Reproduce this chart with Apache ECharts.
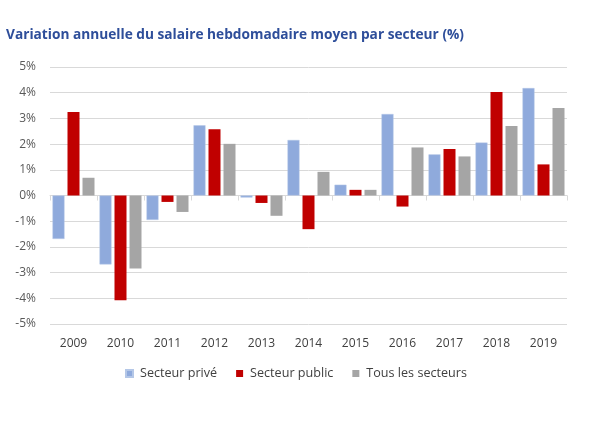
<!DOCTYPE html>
<html><head><meta charset="utf-8">
<script src="https://cdn.jsdelivr.net/npm/echarts@6/dist/echarts.min.js"></script>
<style>html,body{margin:0;padding:0;background:#fff}#c{width:605px;height:423px}</style>
</head><body><div id="c"></div>
<script>
const categories = ['2009','2010','2011','2012','2013','2014','2015','2016','2017','2018','2019'];
const prive  = [-1.69,-2.68,-0.95,2.73,-0.08,2.16,0.42,3.17,1.60,2.06,4.18];
const public_ = [3.25,-4.08,-0.25,2.58,-0.29,-1.31,0.22,-0.43,1.81,4.03,1.21];
const tous   = [0.69,-2.84,-0.64,2.01,-0.79,0.92,0.22,1.87,1.52,2.70,3.40];
const seriesNames = ['Secteur privé','Secteur public','Tous les secteurs'];
const yTicks = [-5,5,1];

const chart = echarts.init(document.getElementById('c'), null, {renderer:'canvas'});
const font = 'Open Sans, Liberation Sans, sans-serif';
chart.setOption({
  animation:false,
  title:{text:'Variation annuelle du salaire hebdomadaire moyen par secteur (%)',left:1,top:23,
    textStyle:{fontFamily:font,fontSize:13.7,fontWeight:'bold',color:'#2E4E9A'}},
  grid:{left:50,right:38,top:67,bottom:99},
  legend:{bottom:38,left:120,itemWidth:7,itemHeight:7,itemGap:19,icon:'rect',
    textStyle:{fontFamily:font,fontSize:12.6,color:'#404040',padding:[0,0,0,2]},data:seriesNames},
  xAxis:[
    {type:'category',data:categories,position:'bottom',axisLine:{show:false,onZero:false},axisTick:{show:false},
      axisLabel:{fontFamily:font,fontSize:12,color:'#404040',margin:14}},
    {type:'category',data:categories,position:'bottom',axisLine:{show:true,onZero:true,lineStyle:{color:'#D9D9D9'}},
      axisTick:{show:true,length:5,lineStyle:{color:'#D9D9D9'}},axisLabel:{show:false}}
  ],
  yAxis:{type:'value',min:yTicks[0],max:yTicks[1],interval:yTicks[2],
    axisLabel:{fontFamily:font,fontSize:12,color:'#595959',margin:14,formatter:v=>v+'%'},
    splitLine:{lineStyle:{color:'#D9D9D9'}},axisLine:{show:false},axisTick:{show:false}},
  series:[
    {name:seriesNames[0],type:'bar',data:prive,barWidth:12,barGap:'25%',itemStyle:{color:'#8FAADC',borderColor:'#B4C7E7',borderWidth:0.5}},
    {name:seriesNames[1],type:'bar',data:public_,barWidth:12,barGap:'25%',itemStyle:{color:'#C00000'}},
    {name:seriesNames[2],type:'bar',data:tous,barWidth:12,barGap:'25%',itemStyle:{color:'#A5A5A5'}}
  ]
});
</script></body></html>
